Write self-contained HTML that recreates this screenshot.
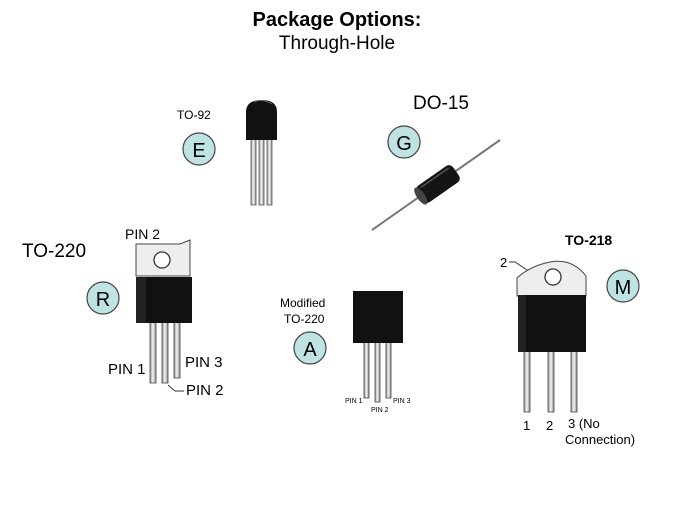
<!DOCTYPE html>
<html><head><meta charset="utf-8"><style>
html,body{margin:0;padding:0;background:#fff;}
svg{display:block;font-family:"Liberation Sans",Arial,sans-serif;}
</style></head><body>
<svg width="675" height="506" viewBox="0 0 675 506" xmlns="http://www.w3.org/2000/svg">
<defs>
<linearGradient id="lead" x1="0" x2="1"><stop offset="0" stop-color="#999"/><stop offset="0.5" stop-color="#f4f4f4"/><stop offset="1" stop-color="#888"/></linearGradient>
</defs>
<text x="337" y="26" text-anchor="middle" font-size="20" font-weight="bold">Package Options:</text>
<text x="337" y="49" text-anchor="middle" font-size="19">Through-Hole</text>

<!-- TO-92 -->
<text x="177" y="119" font-size="12">TO-92</text>
<g stroke="#555" stroke-width="0.8" fill="url(#lead)">
<rect x="251" y="138" width="5" height="67"/><rect x="259" y="138" width="5" height="67"/><rect x="267" y="138" width="5" height="67"/>
</g>
<path d="M246 140 V112 Q246 100 262 100 Q277 100 277 112 V140 Z" fill="#111"/>
<path d="M254 102 Q262 98 272 104" stroke="#666" fill="none"/>
<circle cx="199" cy="149" r="16" fill="#bfe3e3" stroke="#444" stroke-width="1.2"/>
<text x="199" y="157" text-anchor="middle" font-size="20">E</text>

<!-- DO-15 -->
<text x="413" y="109" font-size="19">DO-15</text>
<circle cx="404" cy="142" r="16" fill="#bfe3e3" stroke="#444" stroke-width="1.2"/>
<text x="404" y="150" text-anchor="middle" font-size="20">G</text>
<line x1="372" y1="230" x2="500" y2="140" stroke="#777" stroke-width="2"/>
<g transform="translate(438,184) rotate(-35)">
<rect x="-22" y="-10" width="44" height="20" rx="5" fill="#151515"/>
<ellipse cx="-21" cy="0" rx="4" ry="10" fill="#444"/>
<line x1="-16" y1="-7" x2="18" y2="-7" stroke="#555" stroke-width="1.5"/>
</g>

<!-- TO-220 -->
<text x="22" y="257" font-size="19">TO-220</text>
<text x="125" y="239" font-size="14">PIN 2</text>
<circle cx="103" cy="298" r="16" fill="#bfe3e3" stroke="#444" stroke-width="1.2"/>
<text x="103" y="306" text-anchor="middle" font-size="20">R</text>
<path d="M136 244 L180 244 L190 240 L190 276 L136 276 Z" fill="#eee" stroke="#444"/>
<circle cx="162" cy="260" r="8" fill="#fff" stroke="#333" stroke-width="1.3"/>
<g stroke="#444" stroke-width="0.8" fill="url(#lead)">
<rect x="150" y="320" width="6" height="63"/><rect x="162" y="320" width="6" height="63"/><rect x="174" y="320" width="6" height="58"/>
</g>
<rect x="136" y="277" width="56" height="46" fill="#111"/>
<rect x="136" y="277" width="10" height="46" fill="#222"/>
<text x="108" y="374" font-size="15">PIN 1</text>
<text x="185" y="367" font-size="15">PIN 3</text>
<text x="186" y="395" font-size="15">PIN 2</text>
<path d="M168 385 L175 391 H184" stroke="#333" fill="none"/>

<!-- Modified TO-220 -->
<text x="280" y="307" font-size="12">Modified</text>
<text x="284" y="323" font-size="12">TO-220</text>
<circle cx="310" cy="348" r="16" fill="#bfe3e3" stroke="#444" stroke-width="1.2"/>
<text x="310" y="356" text-anchor="middle" font-size="20">A</text>
<g stroke="#444" stroke-width="0.8" fill="url(#lead)">
<rect x="364" y="340" width="5" height="58"/><rect x="375" y="340" width="5" height="62"/><rect x="386" y="340" width="5" height="58"/>
</g>
<rect x="353" y="291" width="50" height="52" fill="#111"/>
<text x="345" y="403" font-size="7">PIN 1</text>
<text x="371" y="412" font-size="7">PIN 2</text>
<text x="393" y="403" font-size="7">PIN 3</text>

<!-- TO-218 -->
<text x="565" y="245" font-size="14" font-weight="bold">TO-218</text>
<text x="500" y="267" font-size="13">2</text>
<path d="M509 262 H515 L530 272" stroke="#333" fill="none"/>
<path d="M517 296 L517 278 Q530 266 550 262 Q572 258 586 276 L586 296 Z" fill="#eee" stroke="#444"/>
<circle cx="553" cy="277" r="8" fill="#fff" stroke="#333" stroke-width="1.3"/>
<g stroke="#444" stroke-width="0.8" fill="url(#lead)">
<rect x="524" y="348" width="6" height="64"/><rect x="548" y="348" width="6" height="64"/><rect x="571" y="348" width="6" height="64"/>
</g>
<rect x="518" y="295" width="68" height="57" fill="#111"/>
<rect x="518" y="295" width="8" height="57" fill="#222"/>
<text x="523" y="430" font-size="13">1</text>
<text x="546" y="430" font-size="13">2</text>
<text x="568" y="428" font-size="13">3 (No</text>
<text x="565" y="444" font-size="13">Connection)</text>
<circle cx="623" cy="286" r="16" fill="#bfe3e3" stroke="#444" stroke-width="1.2"/>
<text x="623" y="294" text-anchor="middle" font-size="20">M</text>
</svg>
</body></html>
